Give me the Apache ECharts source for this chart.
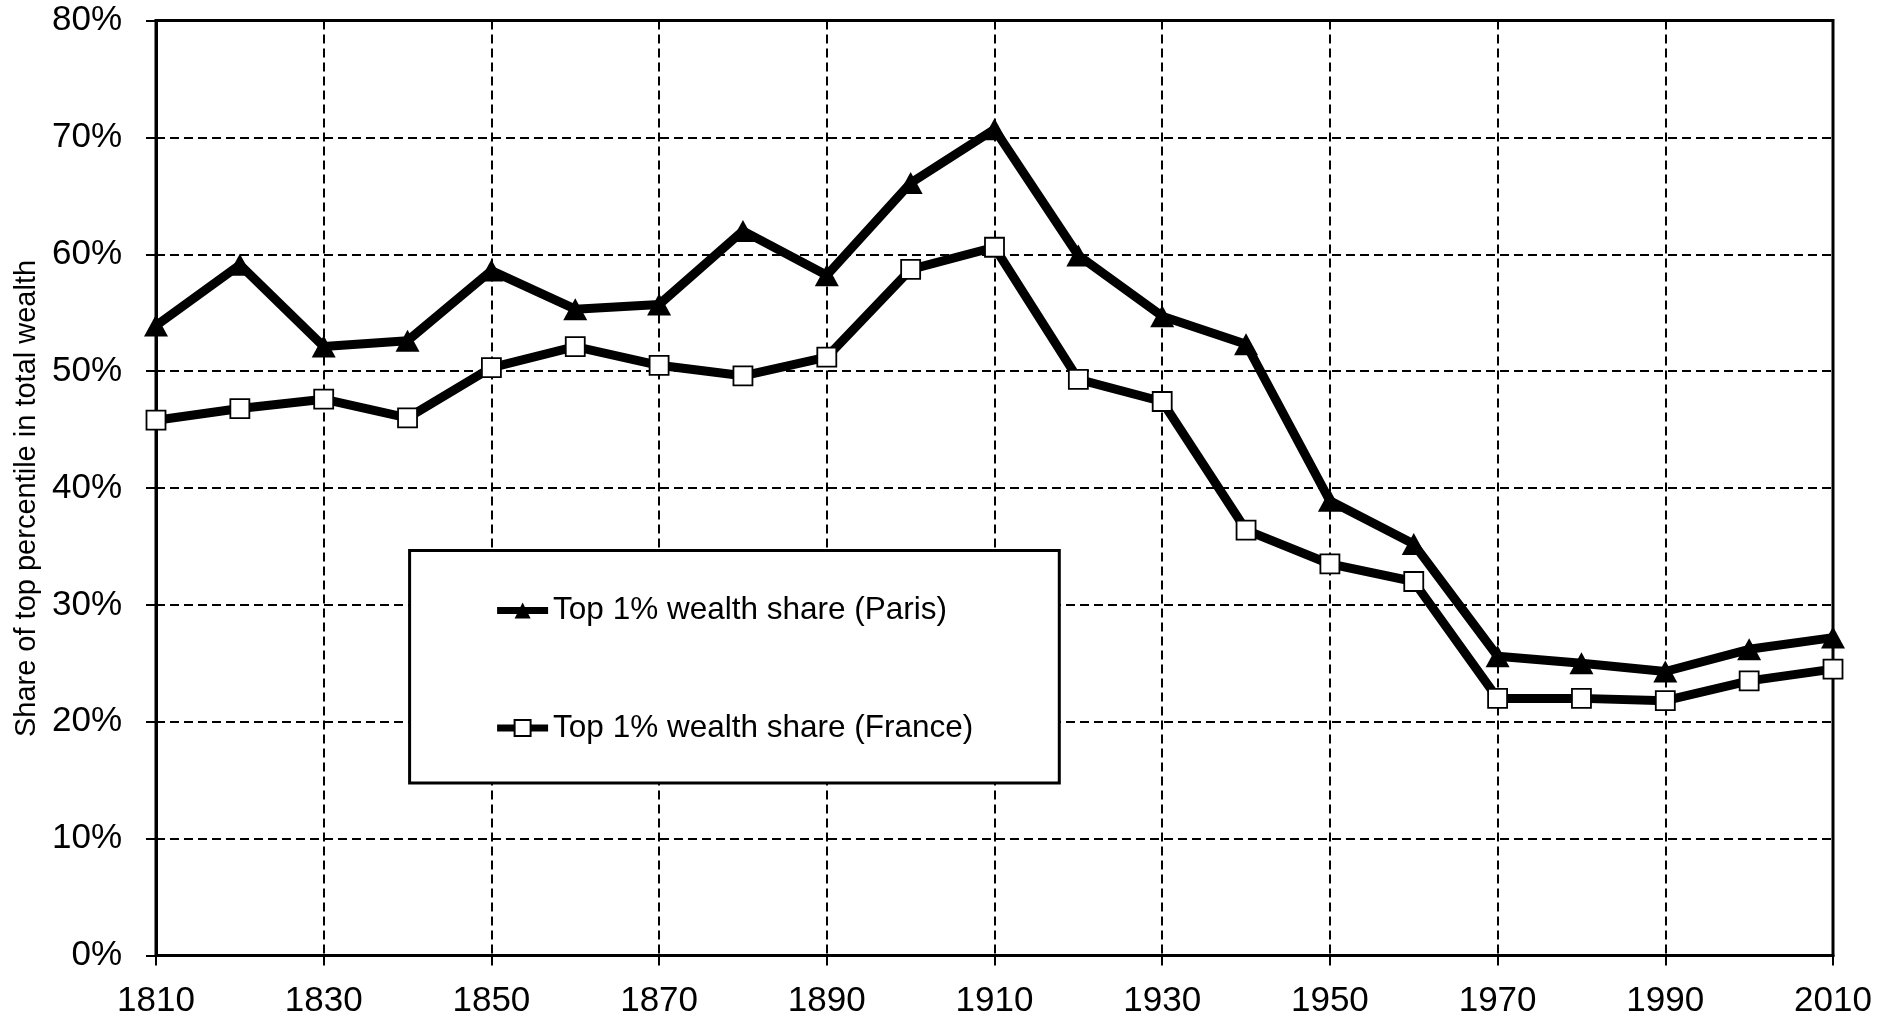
<!DOCTYPE html>
<html>
<head>
<meta charset="utf-8">
<script src="https://cdn.jsdelivr.net/npm/echarts@6/dist/echarts.min.js"></script>
<style>
html,body{margin:0;padding:0;background:#fff;}
#chart{width:1889px;height:1019px;}
</style>
</head>
<body>
<div id="chart"></div>
<script>
var years = [1810,1820,1830,1840,1850,1860,1870,1880,1890,1900,1910,1920,1930,1940,1950,1960,1970,1980,1990,2000,2010];
var parisShare = [53.9,59.1,52.1,52.6,58.6,55.3,55.7,62.0,58.2,66.1,70.7,59.9,54.7,52.3,38.9,35.2,25.6,25.0,24.3,26.2,27.2];
var franceShare = [45.8,46.8,47.6,46.0,50.3,52.1,50.5,49.6,51.2,58.7,60.6,49.3,47.4,36.4,33.5,32.0,22.0,22.0,21.8,23.5,24.5];
var seriesNames = ['Top 1% wealth share (Paris)', 'Top 1% wealth share (France)'];
var yAxisTitle = 'Share of top percentile in total wealth';

function pairs(vals){ return years.map(function(y,i){ return [y, vals[i]]; }); }

var FONT = '"Liberation Sans", Arial, sans-serif';
var chart = echarts.init(document.getElementById('chart'), null, {renderer:'canvas'});
chart.setOption({
  animation:false,
  backgroundColor:'#fff',
  grid:{left:156, top:20.5, right:56, bottom:63.5, show:true, borderColor:'#000', borderWidth:3, backgroundColor:'transparent'},
  xAxis:{
    type:'value', min:1810, max:2010, interval:20,
    axisLine:{show:true, onZero:false, lineStyle:{color:'#000', width:3}},
    axisTick:{show:true, length:10, inside:false, lineStyle:{color:'#000', width:2}},
    axisLabel:{margin:28, color:'#000', fontSize:35, fontFamily:FONT, formatter:function(v){return String(v);}},
    splitLine:{show:true, lineStyle:{color:'#000', width:2, type:[9,5]}}
  },
  yAxis:{
    type:'value', min:0, max:80, interval:10,
    name:yAxisTitle, nameLocation:'middle', nameGap:115, nameRotate:90,
    nameTextStyle:{color:'#000', fontSize:29, fontFamily:FONT, padding:[0,21,0,0]},
    axisLine:{show:true, lineStyle:{color:'#000', width:3}},
    axisTick:{show:true, length:10, inside:false, lineStyle:{color:'#000', width:2}},
    axisLabel:{margin:34, color:'#000', fontSize:35, fontFamily:FONT, formatter:'{value}%'},
    splitLine:{show:true, lineStyle:{color:'#000', width:2, type:[9,5]}}
  },
  legend:{
    orient:'vertical', left:409.6, top:550.5,
    padding:[44,86,39,84],
    itemGap:85.6, itemWidth:51, itemHeight:20,
    borderColor:'#000', borderWidth:3, backgroundColor:'#fff',
    lineStyle:{width:7, color:'#000'},
    textStyle:{color:'#000', fontSize:31.5, fontFamily:FONT},
    data:seriesNames
  },
  series:[
    {
      name:seriesNames[0], type:'line', data:pairs(parisShare),
      symbol:'triangle', symbolSize:[24,22],
      lineStyle:{color:'#000', width:9},
      itemStyle:{color:'#000', borderColor:'#000', borderWidth:0},
      z:3
    },
    {
      name:seriesNames[1], type:'line', data:pairs(franceShare),
      symbol:'rect', symbolSize:19,
      lineStyle:{color:'#000', width:9},
      itemStyle:{color:'#fff', borderColor:'#000', borderWidth:1.8},
      z:3
    }
  ]
});
</script>
</body>
</html>
